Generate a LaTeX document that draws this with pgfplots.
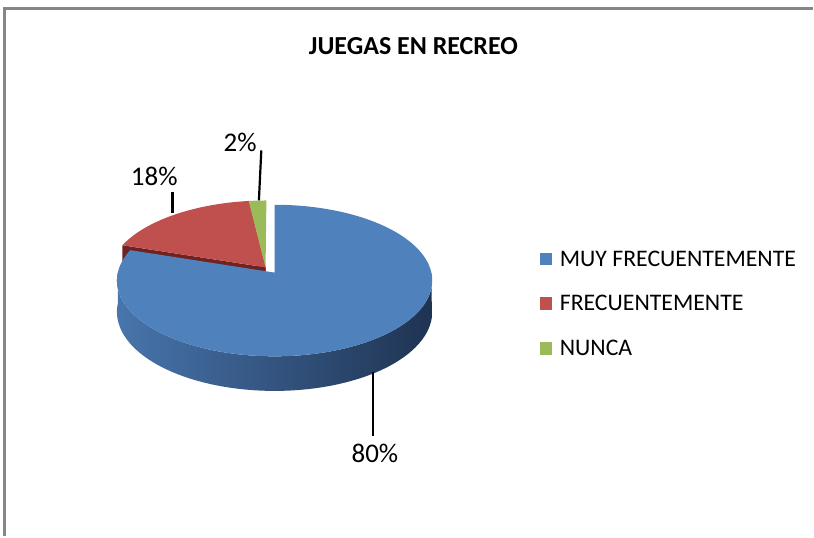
\documentclass[border=0pt]{standalone}
\usepackage{pgfplots}
\pgfplotsset{compat=1.18}
\usepackage{fontspec}
\setmainfont{Carlito}
\definecolor{cblue}{HTML}{4F81BD}
\definecolor{cred}{HTML}{C0504D}
\definecolor{cgreen}{HTML}{9BBB59}
\definecolor{cdred}{HTML}{6F2220}
\definecolor{cdgreen}{HTML}{4F6228}
\definecolor{sideL}{RGB}{72,117,172}
\definecolor{sideM}{RGB}{42,72,110}
\definecolor{sideR}{RGB}{31,51,82}
\definecolor{bordergray}{RGB}{134,134,134}
\begin{document}
\begin{tikzpicture}[declare function={PX(\pu,\pv)=275+157*\pu/(1+0.105*\pv); PY(\pv,\pz)=(273-46.4*\pv+31*\pz)/(1+0.105*\pv);}]
% data (percent)
\def\pA{80}\def\pB{18}\def\pC{2}
\pgfmathsetmacro\tA{90-3.6*\pA}
\pgfmathsetmacro\tB{\tA-3.6*\pB}
\pgfmathsetmacro\tC{\tB-3.6*\pC}
\def\du{0.058}\def\dv{0.07}
\pgfmathsetmacro\vx{PX(-\du,\dv)}
\pgfmathsetmacro\vy{PY(\dv,0)}
\pgfmathsetmacro\vyb{PY(\dv,1)}
\pgfmathsetmacro\rx{PX(cos(\tA)-\du,sin(\tA)+\dv)}
\pgfmathsetmacro\ry{PY(sin(\tA)+\dv,0)}
\pgfmathsetmacro\ryb{PY(sin(\tA)+\dv,1)}
\pgfmathsetmacro\gx{PX(cos(\tB)-\du,sin(\tB)+\dv)}
\pgfmathsetmacro\gy{PY(sin(\tB)+\dv,0)}
\pgfmathsetmacro\gyb{PY(sin(\tB)+\dv,1)}
\begin{axis}[
  width=407pt, height=268.5pt, scale only axis,
  xmin=0, xmax=814, ymin=0, ymax=537, y dir=reverse,
  hide axis, clip=false,
  legend style={at={(axis cs:540.7,252.3)}, anchor=north west, draw=none, fill=none,
    inner sep=0pt, outer sep=0pt, row sep=15.15pt,
    font=\fontsize{11.9}{13}\selectfont,
    nodes={inner sep=0pt, text height=7.2pt, text depth=0pt}},
  legend cell align=left,
  legend image code/.code={\fill[#1, draw=none] (0pt,-3.15pt) rectangle (6.3pt,3.15pt); \path[draw=none, fill=none] (0pt,0pt) rectangle (10pt,0.1pt);},
]
\path (axis cs:0,0) rectangle (axis cs:814,537);
% green cut face
\addplot[fill=cdgreen, draw=none, forget plot] coordinates {(\vx,\vy) (\gx,\gy) (\gx,\gyb) (\vx,\vyb)} -- cycle;
% red cut face
\addplot[fill=cdred, draw=none, forget plot] coordinates {(\vx,\vy) (\rx,\ry) (\rx,\ryb) (\vx,\vyb)} -- cycle;
% red top
\addplot[fill=cred, draw=none, forget plot, domain=\tB:\tA, samples=60, variable=\t]
  ({PX(cos(\t)-\du,sin(\t)+\dv)},{PY(sin(\t)+\dv,0)}) -- (axis cs:\vx,\vy) -- cycle;
% green top
\addplot[fill=cgreen, draw=none, forget plot, domain=\tC:\tB, samples=10, variable=\t]
  ({PX(cos(\t)-\du,sin(\t)+\dv)},{PY(sin(\t)+\dv,0)}) -- (axis cs:\vx,\vy) -- cycle;
% blue side
\addplot[left color=sideL, middle color=sideM, right color=sideR, draw=none, forget plot,
  domain=0:2, samples=181, variable=\s]
  ({PX(cos(((\s<=1)?(180+180*\s):(540-180*\s))),sin(((\s<=1)?(180+180*\s):(540-180*\s))))},
   {PY(sin(((\s<=1)?(180+180*\s):(540-180*\s))),((\s<=1)?0:1))}) -- cycle;
% blue top
\addplot[fill=cblue, draw=none, forget plot, domain=\tA:90, samples=150, variable=\t]
  ({PX(cos(\t),sin(\t))},{PY(sin(\t),0)}) -- (axis cs:275,273) -- cycle;
% leader lines
\addplot[black, line width=1.1pt, forget plot] coordinates {(373.7,373) (373.7,437)};
\addplot[black, line width=1.1pt, forget plot] coordinates {(172.7,192) (172.7,213)};
\addplot[black, line width=1.1pt, forget plot] coordinates {(261.7,150.7) (259.3,200.7)};
% labels
\node[font=\fontsize{13.5}{16}\selectfont, inner sep=0pt] at (axis cs:375.5,454) {80\%};
\node[font=\fontsize{13.5}{16}\selectfont, inner sep=0pt] at (axis cs:154.5,177) {18\%};
\node[font=\fontsize{13.5}{16}\selectfont, inner sep=0pt] at (axis cs:240.5,143) {2\%};
\node[font=\bfseries\fontsize{13}{15}\selectfont, inner sep=0pt] at (axis cs:414,46) {JUEGAS EN RECREO};
% legend
\addlegendimage{fill=cblue}
\addlegendentry{MUY FRECUENTEMENTE}
\addlegendimage{fill=cred}
\addlegendentry{FRECUENTEMENTE}
\addlegendimage{fill=cgreen}
\addlegendentry{NUNCA}
\end{axis}
% frame (drawn last, over a white patch at the top right corner)
\fill[white] (404pt,0pt) rectangle (407pt,264pt);
\draw[bordergray, line width=1.25pt] (2.25pt,0pt) -- (2.25pt,264.15pt) -- (407pt,264.15pt);
\end{tikzpicture}
\end{document}
